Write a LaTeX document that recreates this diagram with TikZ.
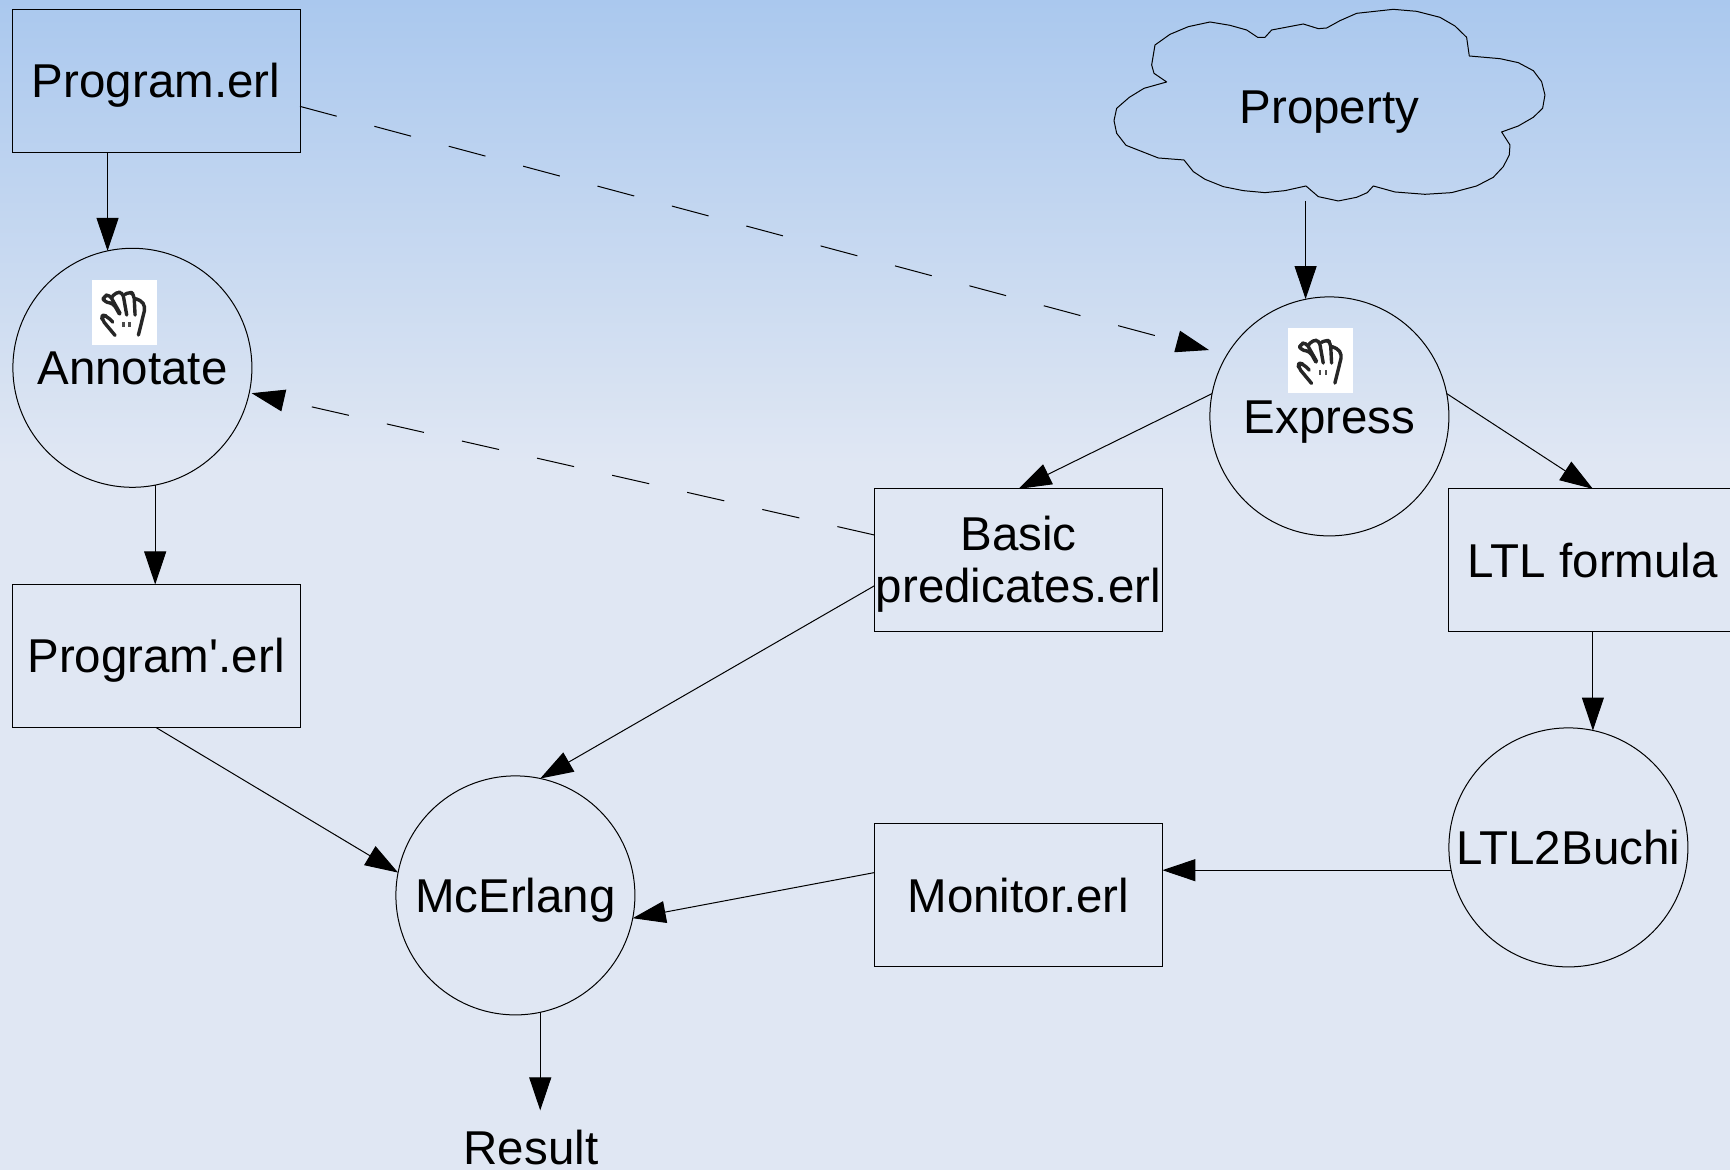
\documentclass[tikz,border=0pt]{standalone}
\usepackage{fontspec}
\newfontfamily\labelfont{Liberation Sans}
\usetikzlibrary{arrows.meta,positioning}

\definecolor{skytop}{RGB}{170,200,238}
\definecolor{skybottom}{RGB}{224,231,243}

\tikzset{
    hand/.pic={
        \fill[white] (-32.5,-32.5) rectangle (32.5,32.5);
        \begin{scope}[scale=.3333,shift={(-163,-157)}]
            \draw[line width=1.7pt,line cap=round,line join=round,rounded corners=2pt,draw=black!85]
                (135,226) -- (95,178) -- (97,165) -- (110,168) -- (128,186)
                (148,162) -- (130,130) -- (100,125) -- (100,108) -- (118,103) -- (150,160)
                (125,112) -- (138,96) -- (158,97) -- (170,165)
                (165,103) -- (180,94) -- (192,104) -- (195,165)
                (192,115) -- (212,120) -- (226,140) -- (205,225);
            \draw[line width=1.2pt,draw=black!70] (160,186) -- (160,201) (178,186) -- (178,201);
        \end{scope}
    }
}

\begin{document}
\begin{tikzpicture}[
    x=0.5pt,y=-0.5pt,
    on grid,
    every node/.style={align=center,font=\labelfont\fontsize{23.75}{26}\selectfont,outer sep=0pt,inner sep=0pt,text height=17pt,text depth=0pt},
    filebox/.style={rectangle,draw=black,line width=.5pt,minimum width=144pt,minimum height=71.5pt},
    process/.style={circle,draw=black,line width=.5pt,minimum size=119.5pt},
    arrow/.style={-{Triangle[length=16.5pt,width=11pt]},draw=black,line width=.5pt},
    dashedarrow/.style={arrow,dash pattern=on 19pt off 19.5pt}
]

% background
\path[use as bounding box,clip] (0,0) rectangle (1730,1170);
\fill[top color=skytop,bottom color=skybottom,draw=none] (0,0) rectangle (1730,465);
\fill[skybottom] (0,465) rectangle (1730,1170);

% left column
\node[filebox] at (156,81) (prog) {Program.erl};
\node[process,below left=143.4pt and 11.8pt of prog] (annotate) {Annotate};
\node[filebox,below=287.5pt of prog] (progprime) {Program'.erl};

% bottom row
\node[process,below right=119.7pt and 179.7pt of progprime] (mcerlang) {McErlang};
\node[filebox,right=251.5pt of mcerlang] (monitor) {Monitor.erl};
\node[below right=126pt and 7.8pt of mcerlang] (result) {Result};

% right side
\node[filebox,above=167.5pt of monitor,text height=,text depth=1.5pt] (basic) {Basic\\predicates.erl};
\node[process,above right=72pt and 155.5pt of basic] (express) {Express};
\node[filebox,right=287.25pt of basic] (ltl) {LTL formula};
\node[process,below left=143.5pt and 12.25pt of ltl] (buchi) {LTL2Buchi};

% cloud
\node[above=155pt of express] (property) {Property};
\coordinate (cloudout) at (1305.6,200.8);
\begin{scope}[shift={(1090,0)},scale=.3333]
    \draw[draw=black,line width=.5pt,line join=round]
        (195,135) -- (240,103) -- (295,80) -- (360,66) -- (420,76) -- (470,90) -- (503,112) -- (525,112)
        -- (545,90) -- (640,72) -- (685,86) -- (710,84) -- (750,62) -- (800,40) -- (910,28) -- (980,34)
        -- (1050,52) -- (1095,78) -- (1130,112) -- (1138,168) -- (1230,176) -- (1285,188) -- (1330,212)
        -- (1355,245) -- (1365,285) -- (1358,325) -- (1330,352) -- (1285,378) -- (1235,396) -- (1260,435)
        -- (1258,465) -- (1240,500) -- (1210,532) -- (1160,558) -- (1085,578) -- (1005,583) -- (915,576)
        -- (850,558) -- (832,578) -- (800,592) -- (745,603) -- (685,590) -- (648,558) -- (585,572)
        -- (525,578) -- (460,572) -- (400,560) -- (345,538) -- (310,515) -- (282,480) -- (205,474)
        -- (108,436) -- (80,400) -- (72,362) -- (80,325) -- (118,292) -- (162,265) -- (230,246)
        -- (192,220) -- (185,195) -- (190,165) -- cycle;
\end{scope}

% hand icons
\pic at ([shift={(-8,-55.4)}]annotate) {hand};
\pic at ([shift={(-8.5,-56)}]express) {hand};

% solid connectors
\draw[arrow] (annotate.102 |- prog.south) -- (annotate.102);
\draw[arrow] (annotate.281.7) -- (annotate.281.7 |- progprime.north);
\draw[arrow] (progprime.south) -- (mcerlang.169);
\draw[arrow] (cloudout) -- (cloudout |- express.101.3);
\draw[arrow] (express.169.5) -- (basic.north);
\draw[arrow] (express.11) -- (ltl.north);
\draw[arrow] (ltl.south) -- (ltl.south |- buchi.78.7);
\draw[arrow] (buchi.191.5) -- (buchi.191.5 -| monitor.east);
\draw[arrow] (monitor.171.3) -- (mcerlang.349);
\draw[arrow] (basic.190.3) -- (mcerlang.78);
\draw[arrow,shorten >=10pt] (mcerlang.282) -- (mcerlang.282 |- result.north);

% dashed connectors
\draw[dashedarrow,shorten >=9.3pt] (prog.350.2) -- (express.149.3);
\draw[dashedarrow,shorten >=1.2pt] (basic.170.5) -- (annotate.348.6);

\end{tikzpicture}
\end{document}
